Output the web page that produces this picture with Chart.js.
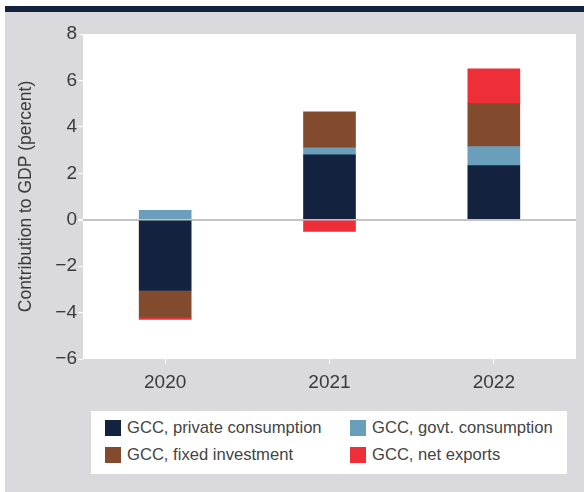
<!DOCTYPE html>
<html>
<head>
<meta charset="utf-8">
<script src="https://cdn.jsdelivr.net/npm/chart.js@4"></script>
<style>
  body { margin: 0; background: #fff; width: 584px; height: 492px; overflow: hidden; position: relative; }
  #topbar { position: absolute; left: 5px; top: 6px; width: 579px; height: 6px; background: #12223f; }
  #panel { position: absolute; left: 5px; top: 12px; width: 579px; height: 480px; background: #d9d9de; }
  #legend { position: absolute; left: 86px; top: 399px; width: 476px; height: 63px; background: #fff;
            font-family: "Liberation Sans", Arial, sans-serif; font-size: 16.6px; color: #444; }
  .item { position: absolute; white-space: nowrap; }
  .sw { position: absolute; width: 16px; height: 16px; }
  .lbl { position: absolute; line-height: 20px; }
</style>
</head>
<body>
<div id="topbar"></div>
<div id="panel">
  <canvas id="chart" width="579" height="480"></canvas>
  <div id="legend"></div>
</div>
<script>
// data
const years = ['2020', '2021', '2022'];
const privateConsumption = [-3.05, 2.8, 2.33];
const govtConsumption = [0.4, 0.3, 0.82];
const fixedInvestment = [-1.15, 1.55, 1.85];
const netExports = [-0.1, -0.5, 1.5];

const seriesNames = ['GCC, private consumption', 'GCC, govt. consumption', 'GCC, fixed investment', 'GCC, net exports'];
const seriesColors = ['#12223f', '#6a9fbc', '#824b2e', '#ee2f37'];

const FONT = '"Liberation Sans", Arial, sans-serif';

const datasets = [privateConsumption, govtConsumption, fixedInvestment, netExports].map((vals, i) => ({
  label: seriesNames[i],
  data: vals,
  backgroundColor: seriesColors[i],
  borderWidth: 0,
  barThickness: 52
}));

// white plot area
const plotBg = {
  id: 'plotBg',
  beforeDraw(chart) {
    const { ctx, chartArea: a } = chart;
    ctx.save();
    ctx.fillStyle = '#fff';
    ctx.fillRect(a.left, a.top, a.right - a.left, a.bottom - a.top);
    ctx.restore();
  }
};

new Chart(document.getElementById('chart').getContext('2d'), {
  type: 'bar',
  data: { labels: years, datasets: datasets },
  options: {
    responsive: false,
    animation: false,
    layout: { padding: { top: 22, right: 8, bottom: 100, left: 0 } },
    plugins: { legend: { display: false }, tooltip: { enabled: false } },
    scales: {
      x: {
        stacked: true,
        border: { display: false },
        grid: { offset: false, drawOnChartArea: false, tickColor: '#fff', tickLength: 5, lineWidth: 1 },
        ticks: { color: '#3a3a3a', font: { family: FONT, size: 19 }, padding: 7 },
        afterFit(s) { s.height = 33; }
      },
      y: {
        stacked: true,
        min: -6,
        max: 8,
        border: { display: false },
        grid: {
          color: c => c.tick && c.tick.value === 0 ? '#c4c4c4' : 'rgba(0,0,0,0)',
          lineWidth: c => c.tick && c.tick.value === 0 ? 2 : 1,
          tickColor: '#fff',
          tickLength: 5
        },
        ticks: {
          stepSize: 2,
          color: '#3a3a3a',
          font: { family: FONT, size: 19 },
          padding: 1,
          callback: v => String(v).replace('-', '\u2212')
        },
        title: {
          display: true,
          text: 'Contribution to GDP (percent)',
          color: '#3a3a3a',
          font: { family: FONT, size: 17.5 },
          padding: { top: 11, bottom: 0 }
        },
        afterFit(s) { s.width = 78; }
      }
    }
  },
  plugins: [plotBg]
});

// legend in two columns
const legend = document.getElementById('legend');
const cols = [14, 259];
const rows = [9, 36];
seriesNames.forEach((name, i) => {
  const x = cols[i % 2], y = rows[Math.floor(i / 2)];
  const sw = document.createElement('div');
  sw.className = 'sw';
  sw.style.left = x + 'px';
  sw.style.top = y + 'px';
  sw.style.background = seriesColors[i];
  const lbl = document.createElement('div');
  lbl.className = 'lbl item';
  lbl.style.left = (x + 22) + 'px';
  lbl.style.top = (y - 2) + 'px';
  lbl.textContent = name;
  legend.appendChild(sw);
  legend.appendChild(lbl);
});
</script>
</body>
</html>
